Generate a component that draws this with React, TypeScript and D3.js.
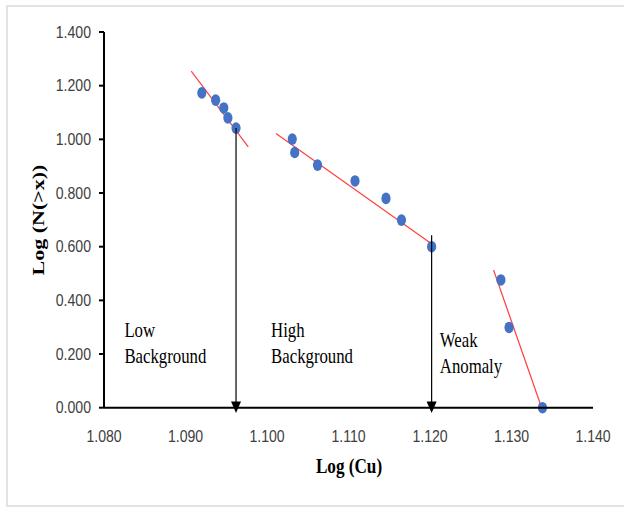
import React from "react";
import * as d3 from "d3";

const lowX = [1.092, 1.0937, 1.0947, 1.0952, 1.0962];
const lowY = [1.173, 1.146, 1.117, 1.08, 1.042];
const highX = [1.1031, 1.1034, 1.1062, 1.1108, 1.1146, 1.1165, 1.1202];
const highY = [1.001, 0.951, 0.904, 0.845, 0.78, 0.699, 0.6];
const anomX = [1.1287, 1.1297, 1.1338];
const anomY = [0.476, 0.299, 0.0];

const trendLow = [[1.0907, 1.254], [1.0977, 0.972]];
const trendHigh = [[1.1011, 1.022], [1.1207, 0.6]];
const trendAnom = [[1.1278, 0.513], [1.1337, 0.0]];

const arrowX = [1.0962, 1.1202];
const arrowTop = [1.042, 0.643];

const xTicks = [1.08, 1.09, 1.1, 1.11, 1.12, 1.13, 1.14];
const yTicks = [0, 0.2, 0.4, 0.6, 0.8, 1.0, 1.2, 1.4];

const zoneLabels = [
  { x: 1.0825, lines: ["Low", "Background"], y0: 337 },
  { x: 1.1005, lines: ["High", "Background"], y0: 337 },
  { x: 1.1212, lines: ["Weak", "Anomaly"], y0: 347 },
];

export default function App() {
  const x = d3.scaleLinear().domain([1.08, 1.14]).range([104, 593]);
  const y = d3.scaleLinear().domain([0, 1.4]).range([407.7, 32]);
  const line = d3
    .line<number[]>()
    .x((d) => x(d[0]))
    .y((d) => y(d[1]));

  const pts = [
    ...lowX.map((v, i) => [v, lowY[i]]),
    ...highX.map((v, i) => [v, highY[i]]),
    ...anomX.map((v, i) => [v, anomY[i]]),
  ];

  const sx = 0.78;
  const tsx = 0.88;
  const serif = "'Liberation Serif', 'Times New Roman', serif";
  const sans = "'Liberation Sans', Arial, sans-serif";

  return (
    <svg
      width={624}
      height={509}
      style={{ position: "absolute", left: 0, top: 0, background: "#fff" }}
    >
      <rect x={0} y={0} width={624} height={509} fill="#fff" />
      <rect x={7} y={6} width={700} height={500} fill="none" stroke="#d9d9d9" strokeWidth={1.5} />

      {/* trend lines */}
      {[trendLow, trendHigh, trendAnom].map((t, i) => (
        <path key={i} d={line(t) || ""} stroke="#ff4040" strokeWidth={1.2} fill="none" />
      ))}

      {/* points */}
      {pts.map((p, i) => (
        <ellipse key={i} cx={x(p[0])} cy={y(p[1])} rx={4.6} ry={5.8} fill="#4472C4" />
      ))}

      {/* axes */}
      <line x1={x(1.08)} x2={x(1.08)} y1={y(1.4)} y2={y(0)} stroke="#000" strokeWidth={2} />
      <line x1={x(1.08)} x2={x(1.14)} y1={y(0)} y2={y(0)} stroke="#000" strokeWidth={2} />
      {yTicks.map((t) => (
        <g key={t}>
          <line x1={x(1.08) - 5} x2={x(1.08)} y1={y(t)} y2={y(t)} stroke="#000" strokeWidth={2} />
          <text
            transform={`translate(91,${y(t) + 5.6}) scale(${tsx},1)`}
            textAnchor="end"
            fontFamily={sans}
            fontSize={16}
            fill="#404040"
          >
            {d3.format(".3f")(t)}
          </text>
        </g>
      ))}
      {xTicks.map((t) => (
        <text
          key={t}
          transform={`translate(${x(t)},442) scale(${tsx},1)`}
          textAnchor="middle"
          fontFamily={sans}
          fontSize={16}
          fill="#404040"
        >
          {d3.format(".3f")(t)}
        </text>
      ))}

      {/* arrows */}
      {arrowX.map((ax, i) => (
        <g key={i}>
          <line x1={x(ax)} x2={x(ax)} y1={y(arrowTop[i])} y2={403} stroke="#000" strokeWidth={1.2} />
          <path
            d={`M${x(ax) - 5},${401.5} L${x(ax) + 5},${401.5} L${x(ax)},${413} Z`}
            fill="#000"
          />
        </g>
      ))}

      {/* zone labels */}
      {zoneLabels.map((z, i) =>
        z.lines.map((s, j) => (
          <text
            key={i + "-" + j}
            transform={`translate(${x(z.x)},${z.y0 + j * 26}) scale(${sx},1)`}
            fontFamily={serif}
            fontSize={21.5}
            fill="#000"
          >
            {s}
          </text>
        ))
      )}

      {/* axis titles */}
      <text
        transform={`translate(349,473) scale(${sx},1)`}
        textAnchor="middle"
        fontFamily={serif}
        fontWeight="bold"
        fontSize={22}
        fill="#000"
      >
        Log (Cu)
      </text>
      <text
        transform={`translate(44,220) scale(${sx},1) rotate(-90)`}
        textAnchor="middle"
        fontFamily={serif}
        fontWeight="bold"
        fontSize={22}
        fill="#000"
      >
        Log (N(&gt;x))
      </text>
    </svg>
  );
}
